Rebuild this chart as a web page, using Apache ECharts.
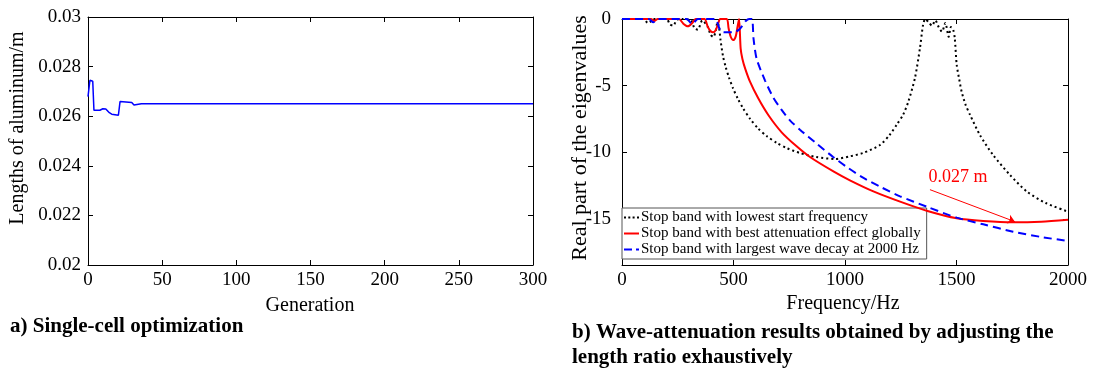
<!DOCTYPE html>
<html>
<head>
<meta charset="utf-8">
<script src="https://cdn.jsdelivr.net/npm/echarts@6/dist/echarts.min.js"></script>
<style>
html,body{margin:0;padding:0;background:#fff;}
#c{width:1093px;height:371px;}
</style>
</head>
<body>
<div id="c"></div>
<script>
// ---------- Panel a) data ----------
var genX = [0, 1.3, 3.2, 4, 8, 10, 12, 14.4, 16, 20.5, 21.6, 29.5, 31, 36, 300];
var lenY = [0.02679, 0.02745, 0.02741, 0.02624, 0.02624, 0.0263, 0.02629, 0.02614, 0.02608, 0.02604, 0.02659, 0.02655, 0.02645, 0.0265, 0.0265];
var genTicks = [0, 50, 100, 150, 200, 250, 300];
var lenTicks = [0.02, 0.022, 0.024, 0.026, 0.028, 0.03];

// ---------- Panel b) data ----------
var seriesNames = ['Stop band with lowest start frequency', 'Stop band with best attenuation effect globally', 'Stop band with largest wave decay at 2000 Hz'];
var fBlack = [0, 100, 115, 125, 140, 200, 215, 230, 246, 270, 310, 325, 340, 360, 385, 398, 410, 420, 428, 435, 442, 453, 465, 480, 498, 520, 543, 575, 610, 650, 695, 740, 798, 870, 955, 1022, 1081, 1157, 1200, 1233, 1260, 1284, 1314, 1336, 1350, 1360, 1375, 1390, 1405, 1420, 1435, 1450, 1465, 1475, 1485, 1492, 1501, 1512, 1523, 1540, 1561, 1605, 1664, 1740, 1816, 1900, 2000];
var vBlack = [0, 0, -0.3, -0.25, 0, 0, -0.4, -0.5, -0.05, 0, -0.1, -0.7, -0.8, -0.1, -0.6, -1.2, -1.35, -0.9, -0.25, -0.6, -1.6, -2.8, -3.6, -4.4, -5.2, -6.0, -6.7, -7.5, -8.2, -8.8, -9.3, -9.7, -10.05, -10.35, -10.5, -10.3, -10.05, -9.45, -8.7, -7.9, -7.2, -6.2, -4.4, -2.2, -0.45, 0, -0.25, -0.5, -0.1, -0.6, -0.95, -0.3, -1.33, -0.6, -0.8, -1.4, -3.45, -4.5, -5.45, -6.4, -7.2, -8.7, -10.2, -11.7, -12.95, -13.8, -14.45];
var fRed = [0, 130, 145, 160, 255, 275, 295, 315, 330, 370, 385, 397, 408, 420, 432, 440, 470, 478, 488, 499, 510, 518, 525, 532, 540, 552, 574, 611, 656, 716, 783, 843, 950, 1022, 1130, 1247, 1370, 1501, 1620, 1754, 1880, 2000];
var vRed = [0, 0, -0.15, 0, 0, -0.35, -0.55, -0.3, 0, 0, -0.6, -0.9, -1.0, -0.85, -0.3, 0, 0, -0.7, -1.35, -1.58, -1.3, -0.6, 0, -2.2, -3.0, -3.7, -4.7, -5.95, -7.2, -8.5, -9.55, -10.35, -11.45, -12.1, -12.95, -13.7, -14.4, -14.95, -15.15, -15.25, -15.2, -15.05];
var fBlue = [0, 120, 140, 160, 290, 315, 340, 420, 432, 445, 470, 500, 525, 540, 555, 570, 583, 590, 604, 641, 677, 715, 753, 798, 873, 947, 1008, 1081, 1160, 1247, 1370, 1501, 1620, 1754, 1880, 2000];
var vBlue = [0, 0, -0.25, 0, 0, -0.4, 0, 0, -0.5, -0.95, -1.0, -1.0, -0.8, -0.5, -0.15, 0, 0, -1.5, -3.0, -4.6, -5.85, -6.8, -7.6, -8.3, -9.35, -10.35, -11.1, -11.9, -12.6, -13.3, -14.1, -14.9, -15.4, -15.95, -16.35, -16.65];
var freqTicks = [0, 500, 1000, 1500, 2000];
var eigTicks = [0, -5, -10, -15];
var annotText = [1507, -11.9];
var annotArrowFrom = [1381, -12.8];
var annotArrowTo = [1762, -15.2];

function pairs(xs, ys) { return xs.map(function (x, i) { return [x, ys[i]]; }); }

var FONT = 'Liberation Serif';
var tickFont = { fontFamily: FONT, fontSize: 19, color: '#000' };
var plainNum = function (v) { return String(parseFloat(Number(v).toFixed(3))); };

function axisCommon(extra) {
  var base = {
    axisLine: { show: true, onZero: false, lineStyle: { color: '#000', width: 1 } },
    axisTick: { show: true, inside: true, length: 5, lineStyle: { color: '#000' } },
    splitLine: { show: false },
    axisLabel: Object.assign({ show: true }, tickFont)
  };
  return Object.assign(base, extra);
}
function ticks(vals) { return { show: true, inside: true, length: 5, customValues: vals, lineStyle: { color: '#000' } }; }

var option = {
  backgroundColor: '#fff',
  animation: false,
  grid: [
    { left: 88, top: 17, width: 445, height: 248 },
    { left: 622, top: 19, width: 446, height: 246 }
  ],
  xAxis: [
    axisCommon({ gridIndex: 0, type: 'value', min: 0, max: 300, position: 'bottom', axisTick: ticks(genTicks),
      axisLabel: Object.assign({ customValues: genTicks, margin: 6, formatter: plainNum }, tickFont) }),
    axisCommon({ gridIndex: 0, type: 'value', min: 0, max: 300, position: 'top', axisTick: ticks(genTicks), axisLabel: { show: false } }),
    axisCommon({ gridIndex: 1, type: 'value', min: 0, max: 2000, position: 'bottom', axisTick: ticks(freqTicks),
      axisLabel: Object.assign({ customValues: freqTicks, margin: 6, formatter: plainNum }, tickFont) }),
    axisCommon({ gridIndex: 1, type: 'value', min: 0, max: 2000, position: 'top', axisTick: ticks(freqTicks), axisLabel: { show: false } })
  ],
  yAxis: [
    axisCommon({ gridIndex: 0, type: 'value', min: 0.02, max: 0.03, position: 'left', axisTick: ticks(lenTicks),
      axisLabel: Object.assign({ customValues: lenTicks, margin: 7, formatter: plainNum }, tickFont) }),
    axisCommon({ gridIndex: 0, type: 'value', min: 0.02, max: 0.03, position: 'right', axisTick: ticks(lenTicks), axisLabel: { show: false } }),
    axisCommon({ gridIndex: 1, type: 'value', min: -18.45, max: 0, position: 'left', axisTick: ticks(eigTicks),
      axisLabel: Object.assign({ customValues: eigTicks, margin: 11, formatter: plainNum }, tickFont) }),
    axisCommon({ gridIndex: 1, type: 'value', min: -18.45, max: 0, position: 'right', axisTick: ticks(eigTicks), axisLabel: { show: false } })
  ],
  legend: {
    show: true,
    orient: 'vertical',
    left: 622, top: 208,
    padding: [2, 6, 2, 2],
    itemGap: 1,
    itemWidth: 15, itemHeight: 2,
    symbolKeepAspect: false,
    backgroundColor: '#fff',
    borderColor: '#555', borderWidth: 1, borderRadius: 0,
    textStyle: { fontFamily: FONT, fontSize: 15, color: '#000', padding: [0, 0, 0, -3] },
    data: [
      { name: seriesNames[0], icon: 'path://M0,0h2v2h-2z M4.3,0h2v2h-2z M8.6,0h2v2h-2z M13,0h2v2h-2z' },
      { name: seriesNames[1], icon: 'path://M0,0h15v2h-15z' },
      { name: seriesNames[2], icon: 'path://M0,0h8v2h-8z M12,0h3v2h-3z' }
    ]
  },
  series: [
    { type: 'line', xAxisIndex: 0, yAxisIndex: 0, data: pairs(genX, lenY), symbol: 'none',
      lineStyle: { color: '#0000ff', width: 1.5 }, itemStyle: { color: '#0000ff' } },
    { name: seriesNames[0], type: 'line', xAxisIndex: 2, yAxisIndex: 2, data: pairs(fBlack, vBlack), symbol: 'none', smooth: 0.25,
      lineStyle: { color: '#000', width: 2, type: [2, 3] }, itemStyle: { color: '#000' }, z: 3 },
    { name: seriesNames[1], type: 'line', xAxisIndex: 2, yAxisIndex: 2, data: pairs(fRed, vRed), symbol: 'none', smooth: 0.25,
      lineStyle: { color: '#ff0000', width: 2 }, itemStyle: { color: '#ff0000' }, z: 4,
      markLine: {
        silent: true, animation: false,
        symbol: ['none', 'arrow'], symbolSize: 7,
        lineStyle: { color: '#ff0000', width: 1, type: 'solid' },
        label: { show: false },
        data: [[{ coord: annotArrowFrom }, { coord: annotArrowTo }]]
      },
      markPoint: {
        silent: true, animation: false,
        symbol: 'circle', symbolSize: 0,
        data: [{ coord: annotText, value: '0.027 m' }],
        label: { show: true, position: 'inside', formatter: '0.027 m', color: '#ff0000', fontFamily: FONT, fontSize: 18 }
      }
    },
    { name: seriesNames[2], type: 'line', xAxisIndex: 2, yAxisIndex: 2, data: pairs(fBlue, vBlue), symbol: 'none', smooth: 0.25,
      lineStyle: { color: '#0000ff', width: 2, type: [8, 5] }, itemStyle: { color: '#0000ff' }, z: 5 }
  ],
  graphic: [
    { type: 'text', x: 18, y: 128, rotation: Math.PI / 2, style: { text: 'Lengths of aluminum/m', fontFamily: FONT, fontSize: 20, fill: '#000', align: 'center', verticalAlign: 'middle' } },
    { type: 'text', x: 310, y: 306, style: { text: 'Generation', fontFamily: FONT, fontSize: 20, fill: '#000', align: 'center', verticalAlign: 'middle' } },
    { type: 'text', x: 10, y: 327, style: { text: 'a) Single-cell optimization', fontFamily: FONT, fontSize: 21, fontWeight: 'bold', fill: '#000', align: 'left', verticalAlign: 'middle' } },
    { type: 'text', x: 580, y: 138, rotation: Math.PI / 2, style: { text: 'Real part of the eigenvalues', fontFamily: FONT, fontSize: 22, fill: '#000', align: 'center', verticalAlign: 'middle' } },
    { type: 'text', x: 843, y: 304, style: { text: 'Frequency/Hz', fontFamily: FONT, fontSize: 20, fill: '#000', align: 'center', verticalAlign: 'middle' } },
    { type: 'text', x: 572, y: 333, style: { text: 'b) Wave-attenuation results obtained by adjusting the', fontFamily: FONT, fontSize: 21, fontWeight: 'bold', fill: '#000', align: 'left', verticalAlign: 'middle' } },
    { type: 'text', x: 572, y: 358, style: { text: 'length ratio exhaustively', fontFamily: FONT, fontSize: 21, fontWeight: 'bold', fill: '#000', align: 'left', verticalAlign: 'middle' } }
  ]
};

var chart = echarts.init(document.getElementById('c'), null, { renderer: 'canvas' });
chart.setOption(option);
</script>
</body>
</html>
